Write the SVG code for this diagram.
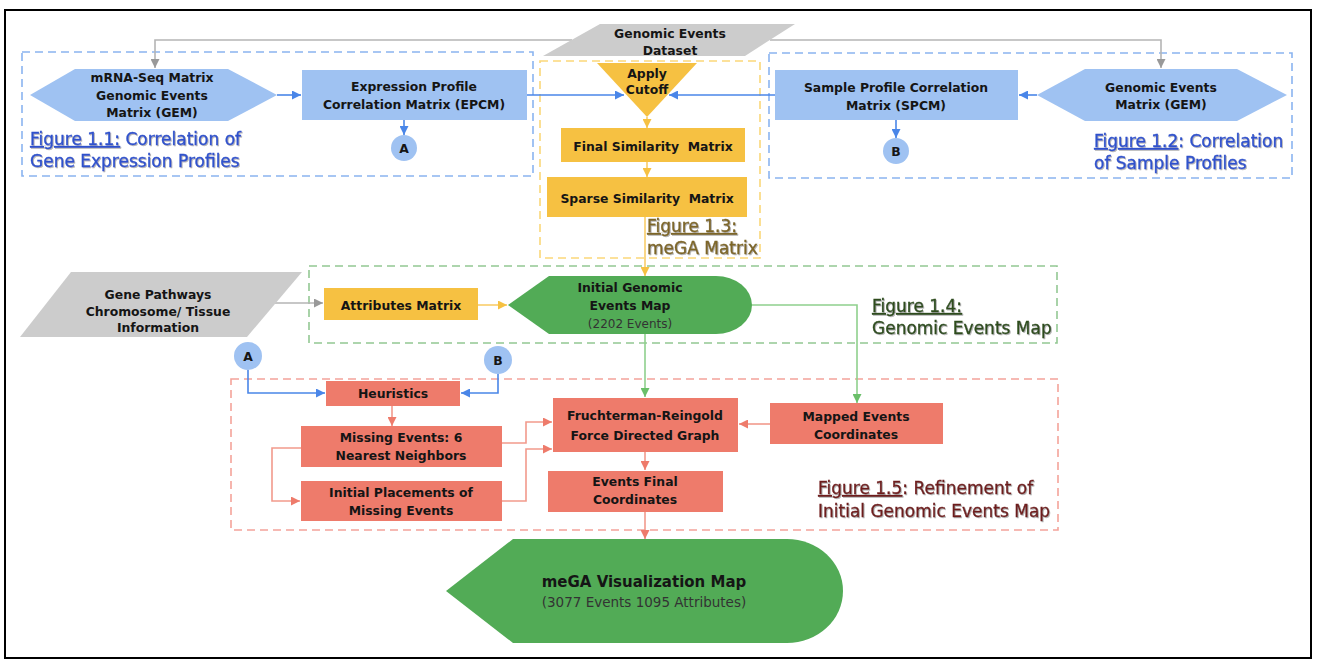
<svg xmlns="http://www.w3.org/2000/svg" width="1318" height="665" viewBox="0 0 1318 665">
<style>
text{font-family:"DejaVu Sans","Noto Sans",sans-serif;fill:#151515}
.t{font-size:12.4px;font-weight:bold;text-anchor:middle}
.s{font-size:12px;text-anchor:middle;fill:#333}
.fig{font-size:17px;stroke-width:0.35px}
.u{text-decoration:underline}
.frame{fill:none;stroke-width:1.6;stroke-dasharray:8 5}
.c{fill:none;stroke-width:1.6}
.blue{fill:#9fc2f2}
.yel{fill:#f6c142}
.gry{fill:#cccccc}
.grn{fill:#52ab56}
.red{fill:#ee7b6b}
</style>
<defs>
<marker id="mb" markerUnits="userSpaceOnUse" viewBox="0 0 10 10" refX="10" refY="5" markerWidth="9" markerHeight="9" orient="auto"><path d="M0,0 L10,5 L0,10 z" fill="#4a86e8"/></marker>
<marker id="mg" markerUnits="userSpaceOnUse" viewBox="0 0 10 10" refX="10" refY="5" markerWidth="9" markerHeight="9" orient="auto"><path d="M0,0 L10,5 L0,10 z" fill="#999999"/></marker>
<marker id="my" markerUnits="userSpaceOnUse" viewBox="0 0 10 10" refX="10" refY="5" markerWidth="9" markerHeight="9" orient="auto"><path d="M0,0 L10,5 L0,10 z" fill="#f6c142"/></marker>
<marker id="mn" markerUnits="userSpaceOnUse" viewBox="0 0 10 10" refX="10" refY="5" markerWidth="9" markerHeight="9" orient="auto"><path d="M0,0 L10,5 L0,10 z" fill="#6abf69"/></marker>
<marker id="mr" markerUnits="userSpaceOnUse" viewBox="0 0 10 10" refX="10" refY="5" markerWidth="9" markerHeight="9" orient="auto"><path d="M0,0 L10,5 L0,10 z" fill="#ee7b6b"/></marker>
<filter id="sh" x="-5%" y="-20%" width="110%" height="140%"><feDropShadow dx="1" dy="1" stdDeviation="0.4" flood-color="#777" flood-opacity="0.55"/></filter>
</defs>
<rect x="0" y="0" width="1318" height="665" fill="#ffffff"/>
<rect x="5" y="10" width="1306" height="648" fill="none" stroke="#000" stroke-width="2"/>

<g id="frames">
<rect class="frame" x="22" y="52" width="511" height="124" stroke="#8ab4f0"/>
<rect class="frame" x="769" y="53" width="523" height="125" stroke="#8ab4f0"/>
<rect class="frame" x="540" y="61" width="220" height="197" stroke="#fbd779"/>
<rect class="frame" x="309" y="266" width="748" height="77" stroke="#93c893"/>
<rect class="frame" x="231" y="379" width="827" height="151" stroke="#f4a39a"/>
</g>

<g id="connectors">
<path class="c" d="M572,40 H155 V68" stroke="#b5b5b5" marker-end="url(#mg)"/>
<path class="c" d="M770,40 H1161 V68" stroke="#b5b5b5" marker-end="url(#mg)"/>
<path class="c" d="M277,95 H301" stroke="#4a86e8" marker-end="url(#mb)"/>
<path class="c" d="M527,95 H624" stroke="#4a86e8" marker-end="url(#mb)"/>
<path class="c" d="M775,95 H669" stroke="#4a86e8" marker-end="url(#mb)"/>
<path class="c" d="M1037,95 H1019" stroke="#4a86e8" marker-end="url(#mb)"/>
<path class="c" d="M404,120 V135" stroke="#4a86e8" marker-end="url(#mb)"/>
<path class="c" d="M896,120 V138" stroke="#4a86e8" marker-end="url(#mb)"/>
<path class="c" d="M647,117 V128" stroke="#f9cd6a" marker-end="url(#my)"/>
<path class="c" d="M647,162 V177" stroke="#f9cd6a" marker-end="url(#my)"/>
<path class="c" d="M645,217 V276" stroke="#f9cd6a" marker-end="url(#my)"/>
<path class="c" d="M275,303 H323" stroke="#b5b5b5" marker-end="url(#mg)"/>
<path class="c" d="M478,305 H507" stroke="#f9cd6a" marker-end="url(#my)"/>
<path class="c" d="M645,334 V397" stroke="#8fd08d" marker-end="url(#mn)"/>
<path class="c" d="M752,305 H857 V403" stroke="#8fd08d" marker-end="url(#mn)"/>
<path class="c" d="M248,370 V393 H325" stroke="#4a86e8" marker-end="url(#mb)"/>
<path class="c" d="M498,374 V393 H461" stroke="#4a86e8" marker-end="url(#mb)"/>
<path class="c" d="M392,406 V426" stroke="#f29a8c" marker-end="url(#mr)"/>
<path class="c" d="M301,448 H272 V501 H300" stroke="#f29a8c" marker-end="url(#mr)"/>
<path class="c" d="M502,443 H526 V422 H552" stroke="#f29a8c" marker-end="url(#mr)"/>
<path class="c" d="M502,501 H526 V449 H552" stroke="#f29a8c" marker-end="url(#mr)"/>
<path class="c" d="M770,424 H739" stroke="#f29a8c" marker-end="url(#mr)"/>
<path class="c" d="M645,452 V470" stroke="#f29a8c" marker-end="url(#mr)"/>
<path class="c" d="M645,512 V539" stroke="#f29a8c" marker-end="url(#mr)"/>
</g>

<g id="dataset">
<polygon class="gry" points="600,24 795,24 745,56 543,56"/>
<text class="t" x="670" y="37.5">Genomic Events</text>
<text class="t" x="670" y="54.5">Dataset</text>
</g>
<g id="mrna">
<polygon class="blue" points="30,95 75,69 228,69 277,95 228,121 75,121"/>
<text class="t" x="152" y="81.5">mRNA-Seq Matrix</text>
<text class="t" x="152" y="99.5">Genomic Events</text>
<text class="t" x="152" y="117">Matrix (GEM)</text>
</g>
<g id="epcm">
<rect class="blue" x="302" y="70" width="225" height="50"/>
<text class="t" x="414" y="90.5">Expression Profile</text>
<text class="t" x="414" y="108.5">Correlation Matrix (EPCM)</text>
</g>
<g id="circleA1">
<circle class="blue" cx="404" cy="148" r="13"/>
<text class="t" x="404" y="152.5">A</text>
</g>
<g id="cutoff">
<polygon class="yel" points="597,63 697,63 647,117"/>
<text class="t" x="647" y="77.5">Apply</text>
<text class="t" x="647" y="93.5">Cutoff</text>
</g>
<g id="final">
<rect class="yel" x="561" y="128" width="184" height="34"/>
<text class="t" x="653" y="150.5" xml:space="preserve">Final Similarity  Matrix</text>
</g>
<g id="sparse">
<rect class="yel" x="547" y="177" width="200" height="40"/>
<text class="t" x="647" y="202.5" xml:space="preserve">Sparse Similarity  Matrix</text>
</g>
<g id="spcm">
<rect class="blue" x="775" y="70" width="243" height="50"/>
<text class="t" x="896" y="91.5">Sample Profile Correlation</text>
<text class="t" x="896" y="109.5">Matrix (SPCM)</text>
</g>
<g id="gem2">
<polygon class="blue" points="1037,95 1085,69 1237,69 1287,95 1237,121 1085,121"/>
<text class="t" x="1161" y="91.5">Genomic Events</text>
<text class="t" x="1161" y="109">Matrix (GEM)</text>
</g>
<g id="circleB1">
<circle class="blue" cx="896" cy="151" r="13"/>
<text class="t" x="896" y="155.5">B</text>
</g>

<g id="pathways">
<polygon class="gry" points="71,272 302,272 247,337 20,337"/>
<text class="t" x="158" y="298.5">Gene Pathways</text>
<text class="t" x="158" y="315.5">Chromosome/ Tissue</text>
<text class="t" x="158" y="331.5">Information</text>
</g>
<g id="attributes">
<rect class="yel" x="324" y="288" width="154" height="32"/>
<text class="t" x="401" y="309.5">Attributes Matrix</text>
</g>
<g id="initialMap">
<path class="grn" d="M508,305 L549,276 H716 A36,29 0 0 1 716,334 H549 Z"/>
<text class="t" x="630" y="291.5">Initial Genomic</text>
<text class="t" x="630" y="309.5">Events Map</text>
<text class="s" x="630" y="327.5">(2202 Events)</text>
</g>
<g id="circleA2">
<circle class="blue" cx="248" cy="356" r="14"/>
<text class="t" x="248" y="360.5">A</text>
</g>
<g id="circleB2">
<circle class="blue" cx="498" cy="360" r="14"/>
<text class="t" x="498" y="364.5">B</text>
</g>

<g id="heuristics">
<rect class="red" x="326" y="381" width="134" height="25"/>
<text class="t" x="393" y="397.5">Heuristics</text>
</g>
<g id="missing">
<rect class="red" x="301" y="426" width="201" height="41"/>
<text class="t" x="401" y="441.5">Missing Events: 6</text>
<text class="t" x="401" y="459.5">Nearest Neighbors</text>
</g>
<g id="placements">
<rect class="red" x="301" y="481" width="201" height="40"/>
<text class="t" x="401" y="496.5">Initial Placements of</text>
<text class="t" x="401" y="514.5">Missing Events</text>
</g>
<g id="fr">
<rect class="red" x="553" y="398" width="185" height="54"/>
<text class="t" x="645" y="420">Fruchterman-Reingold</text>
<text class="t" x="645" y="439.5">Force Directed Graph</text>
</g>
<g id="eventsFinal">
<rect class="red" x="548" y="471" width="175" height="41"/>
<text class="t" x="635" y="485.5">Events Final</text>
<text class="t" x="635" y="503.5">Coordinates</text>
</g>
<g id="mapped">
<rect class="red" x="770" y="403" width="173" height="41"/>
<text class="t" x="856" y="420.5">Mapped Events</text>
<text class="t" x="856" y="438.5">Coordinates</text>
</g>
<g id="megaMap">
<path class="grn" d="M446,591 L513,539 H787 A56,52 0 0 1 787,643 H513 Z"/>
<text x="644" y="587" style="font-size:15px;font-weight:bold;text-anchor:middle">meGA Visualization Map</text>
<text x="644" y="607" style="font-size:13.5px;text-anchor:middle;fill:#333">(3077 Events 1095 Attributes)</text>
</g>

<g id="labels" filter="url(#sh)">
<text class="fig" x="30" y="145" style="fill:#2f52cc;stroke:#2f52cc"><tspan class="u">Figure 1.1:</tspan> Correlation of</text>
<text class="fig" x="30" y="167" style="fill:#2f52cc;stroke:#2f52cc">Gene Expression Profiles</text>
<text class="fig" x="1094" y="147" style="fill:#2f52cc;stroke:#2f52cc"><tspan class="u">Figure 1.2</tspan>: Correlation</text>
<text class="fig" x="1094" y="169" style="fill:#2f52cc;stroke:#2f52cc">of Sample Profiles</text>
<text class="fig" x="647" y="232" style="fill:#7d6628;stroke:#7d6628"><tspan class="u">Figure 1.3:</tspan></text>
<text class="fig" x="647" y="254" style="fill:#7d6628;stroke:#7d6628">meGA Matrix</text>
<text class="fig" x="872" y="312" style="fill:#2e4d1e;stroke:#2e4d1e"><tspan class="u">Figure 1.4:</tspan></text>
<text class="fig" x="872" y="334" style="fill:#2e4d1e;stroke:#2e4d1e">Genomic Events Map</text>
<text class="fig" x="818" y="494" style="fill:#6e1c1c;stroke:#6e1c1c"><tspan class="u">Figure 1.5</tspan>: Refinement of</text>
<text class="fig" x="818" y="517" style="fill:#6e1c1c;stroke:#6e1c1c">Initial Genomic Events Map</text>
</g>
</svg>
